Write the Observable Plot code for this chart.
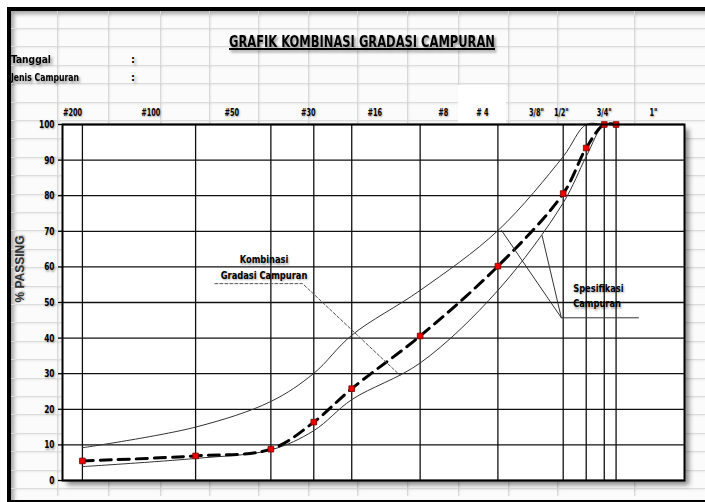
<!DOCTYPE html>
<html>
<head>
<meta charset="utf-8">
<script src="https://cdn.jsdelivr.net/npm/d3@7"></script>
<script src="https://cdn.jsdelivr.net/npm/@observablehq/plot@0.6"></script>
<style>
  html, body { margin: 0; padding: 0; background: #fff; }
  #sheet { position: relative; width: 705px; height: 502px; overflow: hidden; background: #fff;
    font-family: "Liberation Sans Narrow", "DejaVu Sans Condensed", "Liberation Sans", sans-serif; }
  #frame { position: absolute; left: 7px; top: 7px; width: 720px; height: 489px;
    border-left: 4px solid #000; border-top: 4px solid #000; border-bottom: 4px solid #000;
    box-shadow: inset 3px 3px 4px rgba(0,0,0,0.35); background: #fbfbfb; }
  .gcol { position: absolute; top: 11px; bottom: 6px; width: 1px; background: #d9d9d9; box-shadow: 1px 0 2px rgba(0,0,0,0.12); }
  .grow { position: absolute; left: 11px; right: 0; height: 1px; background: #dcdcdc; box-shadow: 0 1px 2px rgba(0,0,0,0.10); }
  #plotbg { position: absolute; left: 62px; top: 124px; width: 622px; height: 356px; background: #fff;
    box-shadow: 5px 5px 5px rgba(0,0,0,0.45); }
  #cell4 { position: absolute; left: 458px; top: 85px; width: 48px; height: 38px; background: #fff; }
  .xl { position: absolute; font-weight: bold; color: #000; white-space: nowrap;
    text-shadow: 2px 2px 3px rgba(0,0,0,0.45); transform-origin: left top; }
  #title { left: 229px; top: 32px; font-size: 16px; text-decoration: underline; text-decoration-thickness: 2px; }
  #chart { position: absolute; left: 0; top: 0; }
  #chart svg text { text-shadow: 1px 1px 2px rgba(0,0,0,0.35); }
</style>
</head>
<body>
<div id="sheet">
  <div id="frame"></div>
  <div id="cell4"></div>
  <div id="plotbg"></div>
  <div class="xl" id="title">GRAFIK KOMBINASI GRADASI CAMPURAN</div>
  <div class="xl fit" data-w="40" style="left:11px; top:53px; font-size:11px;">Tanggal</div>
  <div class="xl" style="left:131px; top:53px; font-size:11px;">:</div>
  <div class="xl fit" data-w="68" style="left:11px; top:71px; font-size:11px;">Jenis Campuran</div>
  <div class="xl" style="left:131px; top:71px; font-size:11px;">:</div>
  <div id="chart"></div>
</div>
<script>
// ---- data ----
const sieves = ["#200", "#100", "#50", "#30", "#16", "#8", "#4", "3/8\"", "1/2\"", "3/4\"", "1\""];
// horizontal position of each sieve line along the chart's x axis (0–100 units)
const sieveX = [3.2, 21.4, 33.5, 40.4, 46.5, 57.5, 70.0, 80.5, 84.2, 87.1, 89.0];
const combined = [5.5, 6.9, 8.8, 16.4, 25.8, 40.6, 60.2, 80.6, 93.4, 100, 100];
const specUpper = [9.2, 15.0, 22.2, 30.1, 40.8, 53.4, 70.2, 91.0, 100, 100, 100];
const specLower = [3.9, 6.2, 8.6, 14.0, 22.7, 33.0, 53.4, 78.0, 91.0, 100, 100];
// top header labels (spreadsheet cells) and their positions along the x axis
const headerLabels = ["#200", "#100", "#50", "#30", "#16", "#8", "# 4", "3/8\"", "1/2\"", "3/4\"", "1\""];
const headerX = [1.6, 14.2, 27.2, 39.5, 50.2, 61.2, 67.5, 76.2, 80.2, 87.1, 95.0];
const yTicks = [0, 10, 20, 30, 40, 50, 60, 70, 80, 90, 100];
const yLabel = "% PASSING";
const annoCombined = ["Kombinasi", "Gradasi Campuran"];
const annoSpec = ["Spesifikasi", "Campuran"];

// ---- spreadsheet decoration ----
const sheet = document.getElementById("sheet");
[57, 108, 160, 209, 258, 308, 357, 407, 458, 508, 557, 634].forEach(x => {
  const d = document.createElement("div"); d.className = "gcol"; d.style.left = x + "px"; sheet.insertBefore(d, document.getElementById("cell4"));
});
for (let y = 28; y < 500; y += 18.4) {
  const d = document.createElement("div"); d.className = "grow"; d.style.top = Math.round(y) + "px"; sheet.insertBefore(d, document.getElementById("cell4"));
}

const rows = sieves.map((s, i) => ({sieve: s, x: sieveX[i], combined: combined[i], upper: specUpper[i], lower: specLower[i]}));
const headers = headerLabels.map((t, i) => ({t, x: headerX[i]}));
const font = "Liberation Sans Narrow, DejaVu Sans Condensed, Liberation Sans, sans-serif";

const chart = Plot.plot({
  width: 705,
  height: 502,
  marginLeft: 62,
  marginRight: 21,
  marginTop: 124,
  marginBottom: 22,
  style: {background: "transparent", fontFamily: font, overflow: "visible"},
  x: {domain: [0, 100], axis: null},
  y: {domain: [0, 100], axis: null},
  marks: [
    Plot.ruleY(yTicks, {stroke: "#111", strokeWidth: 1.3}),
    Plot.ruleX(rows, {x: "x", stroke: "#111", strokeWidth: 1.3}),
    Plot.axisY(yTicks, {tickSize: 4, tickPadding: 4, fontSize: 11, fontWeight: "bold", stroke: "#000", strokeWidth: 1.3, label: null, tickFormat: d => d}),
    Plot.line(rows, {x: "x", y: "upper", curve: "catmull-rom", stroke: "#333", strokeWidth: 1}),
    Plot.line(rows, {x: "x", y: "lower", curve: "catmull-rom", stroke: "#333", strokeWidth: 1}),
    Plot.line(rows, {x: "x", y: "combined", curve: "catmull-rom", stroke: "#000", strokeWidth: 3, strokeDasharray: "11,7"}),
    Plot.dot(rows, {x: "x", y: "combined", symbol: "square", r: 3.2, fill: "#ee0000", stroke: "#7a0000", strokeWidth: 0.8}),
    Plot.frame({stroke: "#000", strokeWidth: 2}),
    // header labels above the plot
    Plot.text(headers, {x: "x", y: 100, text: "t", dy: -12, fontSize: 11, fontWeight: "bold", fill: "#000"}),
    // y axis title
    Plot.text([yLabel], {frameAnchor: "left", dx: -42, rotate: -90, fontSize: 12, fontWeight: "bold", fill: "#333", fontFamily: "Liberation Sans, Arial, sans-serif"}),
    // annotation: Kombinasi Gradasi Campuran
    Plot.text([annoCombined.join("\n")], {x: 32.4, y: 60.2, fontSize: 10.5, fontWeight: "bold", lineHeight: 1.45, fill: "#000"}),
    Plot.line([[24.5, 55.3], [38.6, 55.3], [54.3, 29.5]], {stroke: "#555", strokeWidth: 1, strokeDasharray: "3,2"}),
    // annotation: Spesifikasi Campuran
    Plot.text([annoSpec.join("\n")], {x: 82.1, y: 52.1, textAnchor: "start", fontSize: 10.5, fontWeight: "bold", lineHeight: 1.45, fill: "#000"}),
    Plot.line([[70.6, 70.2], [80.2, 45.7], [92.6, 45.7]], {stroke: "#333", strokeWidth: 1}),
    Plot.line([[77.1, 68.8], [80.2, 45.7]], {stroke: "#333", strokeWidth: 1})
  ]
});
document.getElementById("chart").appendChild(chart);

// condense the svg text horizontally, like the narrow spreadsheet font
chart.querySelectorAll("text").forEach(el => {
  const t = el.textContent;
  let s = 1;
  if (headerLabels.includes(t)) s = 0.66;
  else if (/^\d+$/.test(t)) s = 0.75;
  else if (t !== yLabel) s = 0.88;
  if (s === 1) return;
  const b = el.getBBox();
  const anchor = getComputedStyle(el).textAnchor;
  const cx = anchor === "end" ? b.x + b.width : anchor === "start" ? b.x : b.x + b.width / 2;
  const prev = el.getAttribute("transform") || "";
  el.setAttribute("transform", `${prev} translate(${cx},0) scale(${s},1) translate(${-cx},0)`);
});

// fit the html texts to the widths seen in the reference
const title = document.getElementById("title");
title.style.transform = `scaleX(${266 / title.getBoundingClientRect().width})`;
document.querySelectorAll(".fit").forEach(el => {
  el.style.transform = `scaleX(${(+el.dataset.w) / el.getBoundingClientRect().width})`;
});
</script>
</body>
</html>
